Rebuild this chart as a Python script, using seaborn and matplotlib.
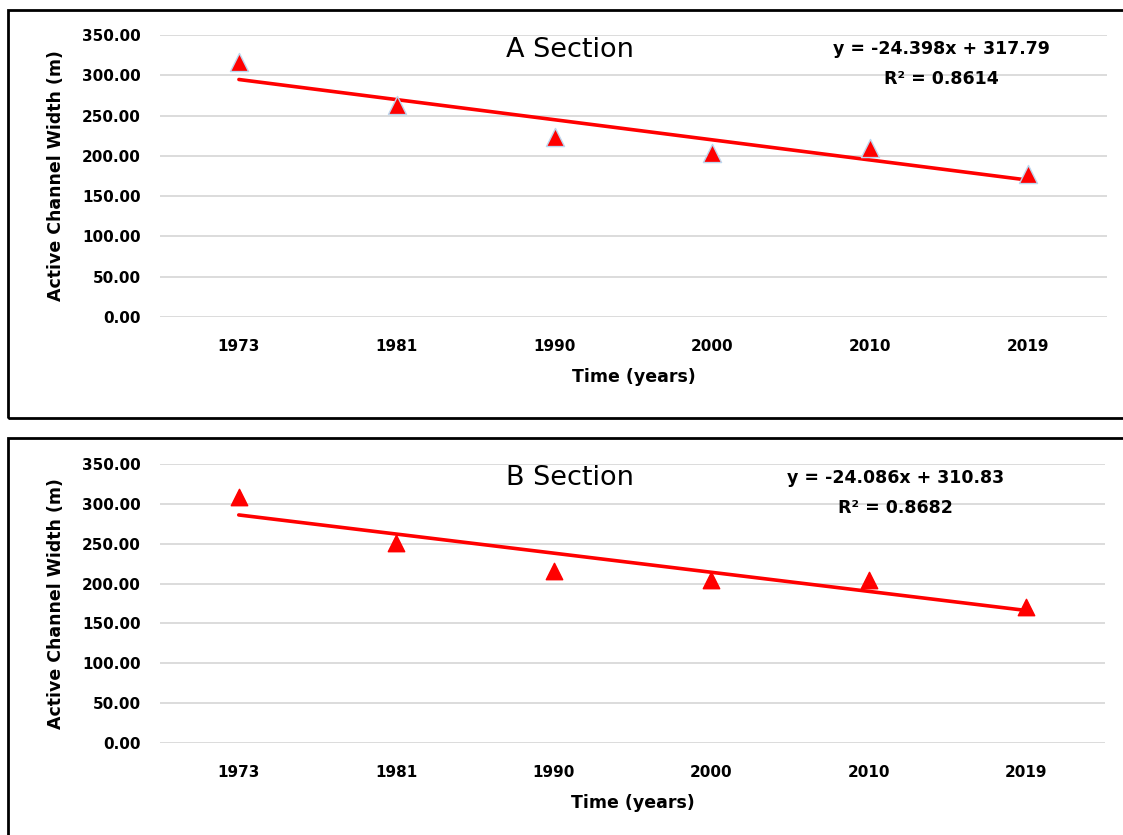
import pandas as pd
import numpy as np
import matplotlib.pyplot as plt
import seaborn as sns
from matplotlib.patches import Rectangle

# 資料
years = ['1973', '1981', '1990', '2000', '2010', '2019']
width_a = [317, 263, 223, 203, 210, 178]
width_b = [309, 251, 216, 205, 205, 171]
eq_a = 'y = -24.398x + 317.79\nR² = 0.8614'
eq_b = 'y = -24.086x + 310.83\nR² = 0.8682'
yticks = [0, 50, 100, 150, 200, 250, 300, 350]

sns.set_theme(style='whitegrid')
plt.rcParams['font.family'] = ['DejaVu Sans']
plt.rcParams['text.color'] = 'black'
plt.rcParams['axes.labelcolor'] = 'black'
plt.rcParams['xtick.color'] = 'black'
plt.rcParams['ytick.color'] = 'black'

fig = plt.figure(figsize=(11.23, 8.35), dpi=100)

# 外框
fig.patches.append(Rectangle((8 / 1123, 1 - 418 / 835), 1.2, 408 / 835, transform=fig.transFigure,
                             fill=False, edgecolor='black', linewidth=2))
fig.patches.append(Rectangle((8 / 1123, -0.1), 1.2, 1 - 438 / 835 + 0.1, transform=fig.transFigure,
                             fill=False, edgecolor='black', linewidth=2))


def draw_panel(ax, values, title, eq, eq_x, edge, msize):
    df = pd.DataFrame({'pos': np.arange(len(years)), 'width': values})
    sns.regplot(data=df, x='pos', y='width', ax=ax, scatter=False, ci=None,
                line_kws={'color': '#FF0000', 'linewidth': 2.6})
    sns.scatterplot(data=df, x='pos', y='width', ax=ax, marker='^', s=msize,
                    color='#FF0000', edgecolor=edge, linewidth=1.0, zorder=5)
    ax.set_xlim(-0.5, 5.5)
    ax.set_ylim(0, 350)
    ax.set_xticks(df['pos'])
    ax.set_xticklabels(years)
    ax.set_yticks(yticks)
    ax.set_yticklabels([f'{v:.2f}' for v in yticks])
    ax.tick_params(axis='x', pad=16, labelsize=11, length=0)
    ax.tick_params(axis='y', pad=14, labelsize=11, length=0)
    for lab in ax.get_xticklabels() + ax.get_yticklabels():
        lab.set_fontweight('bold')
    ax.grid(axis='y', color='#D9D9D9', linewidth=1.3)
    ax.grid(axis='x', visible=False)
    for s in ax.spines.values():
        s.set_visible(False)
    ax.set_xlabel('Time (years)', fontsize=12.5, fontweight='bold', labelpad=10)
    ax.set_ylabel('Active Channel Width (m)', fontsize=12.5, fontweight='bold', labelpad=12)
    ax.text(2.1, 332, title, fontsize=19.5, ha='center', va='center')
    ax.text(eq_x, 314, eq, fontsize=12.5, fontweight='bold', ha='center', va='center',
            linespacing=1.85)


ax1 = fig.add_axes([160 / 1123, 1 - 317 / 835, 947 / 1123, 282 / 835])
draw_panel(ax1, width_a, 'A Section', eq_a, 4.45, '#BDD7EE', 170)

ax2 = fig.add_axes([160 / 1123, 1 - 743 / 835, 945 / 1123, 279 / 835])
draw_panel(ax2, width_b, 'B Section', eq_b, 4.17, '#FF0000', 140)

plt.savefig('out.png', dpi=100)
